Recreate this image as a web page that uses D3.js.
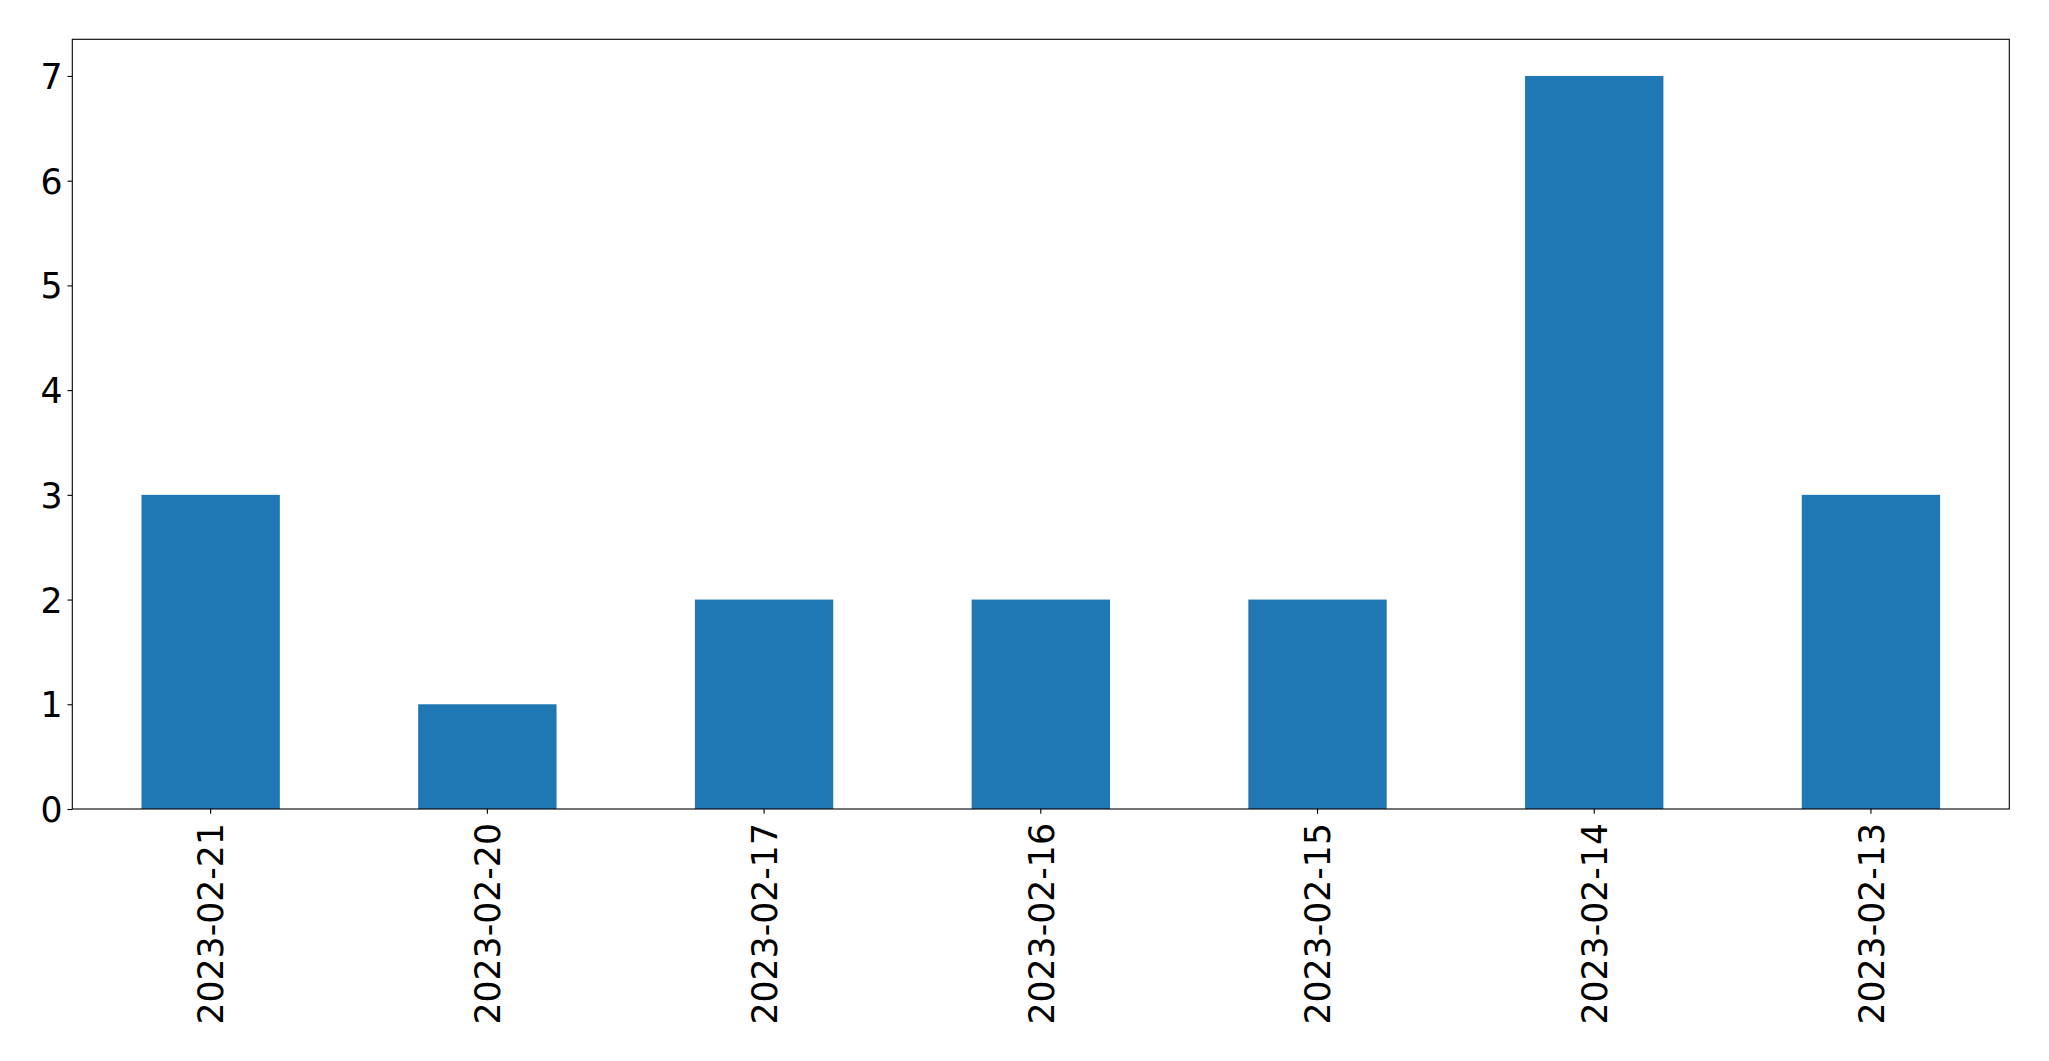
<!DOCTYPE html>
<html>
<head>
<meta charset="utf-8">
<script src="https://cdn.jsdelivr.net/npm/d3@7"></script>
<style>
html, body { margin: 0; padding: 0; background: #fff; }
svg { display: block; }
</style>
</head>
<body>
<svg id="chart" width="2049" height="1061"></svg>
<script>
const categories = ["2023-02-21", "2023-02-20", "2023-02-17", "2023-02-16", "2023-02-15", "2023-02-14", "2023-02-13"];
const values = [3, 1, 2, 2, 2, 7, 3];
const yTicks = [0, 1, 2, 3, 4, 5, 6, 7];

const W = 2049, H = 1061;
const m = { left: 72.3, right: W - 2009.3, top: 39.3, bottom: H - 809 };
const iw = W - m.left - m.right, ih = H - m.top - m.bottom;
const font = "DejaVu Sans, sans-serif";
const fs = 34.7;
const tickLen = 4.86, tickPad = 4.86;

const svg = d3.select("#chart");
const g = svg.append("g").attr("transform", `translate(${m.left},${m.top})`);

const x = d3.scaleBand().domain(categories).range([0, iw]).paddingInner(0.5).paddingOuter(0.25);
const y = d3.scaleLinear().domain([0, 7.35]).range([ih, 0]);

g.selectAll("rect.bar").data(categories).join("rect")
  .attr("class", "bar")
  .attr("x", d => x(d))
  .attr("width", x.bandwidth())
  .attr("y", (d, i) => y(values[i]))
  .attr("height", (d, i) => y(0) - y(values[i]))
  .attr("fill", "#1f77b4");

// frame
g.append("rect").attr("x", 0).attr("y", 0).attr("width", iw).attr("height", ih)
  .attr("fill", "none").attr("stroke", "#000").attr("stroke-width", 1.1);

const ya = g.append("g").call(d3.axisLeft(y).tickValues(yTicks).tickFormat(d3.format("d")).tickSize(tickLen).tickPadding(tickPad));
ya.select(".domain").remove();
ya.selectAll("line").attr("stroke", "#000").attr("stroke-width", 1.1);
ya.selectAll("text").attr("font-family", font).attr("font-size", fs).attr("fill", "#000")
  .attr("dy", "0.36em");

const xa = g.append("g").attr("transform", `translate(0,${ih})`)
  .call(d3.axisBottom(x).tickSize(tickLen).tickPadding(tickPad));
xa.select(".domain").remove();
xa.selectAll("line").attr("stroke", "#000").attr("stroke-width", 1.1);
xa.selectAll("text")
  .attr("font-family", font).attr("font-size", fs).attr("fill", "#000")
  .attr("text-anchor", "end")
  .attr("y", 0).attr("dy", 0)
  .attr("transform", `translate(12.8, ${823 - 809}) rotate(-90)`);
</script>
</body>
</html>
